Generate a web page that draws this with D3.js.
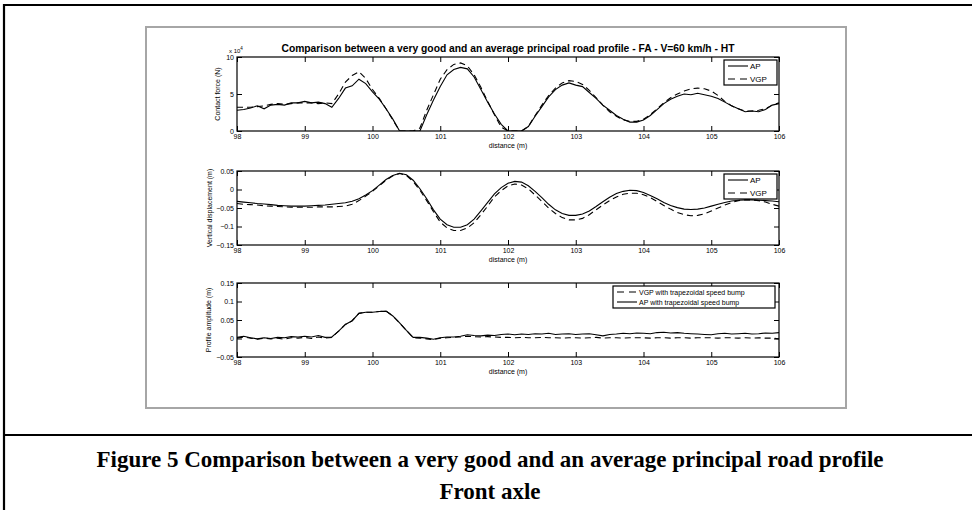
<!DOCTYPE html>
<html>
<head>
<meta charset="utf-8">
<script src="https://cdn.jsdelivr.net/npm/d3@7"></script>
<style>
  body { margin: 0; background: #fff; }
  svg { display: block; }
</style>
</head>
<body>
<div id="chart"></div>
<script>
// distance grid (m)
const distance = [
  98.0, 98.1, 98.2, 98.3, 98.4, 98.5, 98.6, 98.7, 98.8, 98.9,
  99.0, 99.1, 99.2, 99.3, 99.4, 99.5, 99.6, 99.7, 99.8, 99.9,
  100.0, 100.1, 100.2, 100.3, 100.4, 100.5, 100.6, 100.7, 100.8, 100.9,
  101.0, 101.1, 101.2, 101.3, 101.4, 101.5, 101.6, 101.7, 101.8, 101.9,
  102.0, 102.1, 102.2, 102.3, 102.4, 102.5, 102.6, 102.7, 102.8, 102.9,
  103.0, 103.1, 103.2, 103.3, 103.4, 103.5, 103.6, 103.7, 103.8, 103.9,
  104.0, 104.1, 104.2, 104.3, 104.4, 104.5, 104.6, 104.7, 104.8, 104.9,
  105.0, 105.1, 105.2, 105.3, 105.4, 105.5, 105.6, 105.7, 105.8, 105.9,
  106.0
];

// contact force (x 10^4 N)
const forceAP = [
  2.8, 2.9, 3.1, 3.4, 3.0, 3.5, 3.6, 3.5, 3.8, 3.8,
  4.0, 3.8, 3.9, 3.7, 3.2, 4.4, 5.8, 6.1, 7.0, 6.4,
  5.3, 4.3, 3.0, 1.6, 0, 0, 0, 0, 2.2, 4.2,
  6.0, 7.6, 8.3, 8.6, 8.4, 7.3, 5.6, 3.9, 2.3, 0.9,
  0, 0, 0, 0.6, 2.0, 3.3, 4.6, 5.6, 6.2, 6.5,
  6.2, 6.0, 5.2, 4.4, 3.5, 2.8, 2.1, 1.6, 1.2, 1.2,
  1.5, 2.1, 2.9, 3.7, 4.3, 4.7, 5.0, 4.9, 5.1, 4.9,
  4.7, 4.4, 3.9, 3.4, 3.0, 2.6, 2.7, 2.6, 2.9, 3.5,
  3.7
];
const forceVGP = [
  3.2, 3.2, 3.2, 3.3, 3.4, 3.6, 3.7, 3.6, 3.7, 3.8,
  3.8, 3.8, 3.7, 3.8, 3.7, 5.0, 6.6, 7.5, 8.0, 7.1,
  5.6, 4.4, 3.0, 1.5, 0, 0, 0, 0.4, 2.8, 4.9,
  7.0, 8.3, 9.0, 9.2, 8.8, 7.6, 5.9, 4.0, 2.2, 0.5,
  0, 0, 0, 0.6, 2.1, 3.5, 4.8, 5.8, 6.5, 6.8,
  6.7, 6.3, 5.5, 4.5, 3.5, 2.6, 2.0, 1.5, 1.3, 1.3,
  1.6, 2.2, 3.0, 3.8, 4.5, 5.0, 5.4, 5.7, 5.8, 5.7,
  5.4, 4.8, 4.0, 3.4, 3.0, 2.7, 2.7, 2.8, 3.0, 3.5,
  3.8
];

// vertical displacement (m)
const dispAP = [
  -0.032, -0.034, -0.036, -0.038, -0.039, -0.041, -0.043, -0.044, -0.045, -0.045,
  -0.045, -0.044, -0.043, -0.042, -0.040, -0.038, -0.036, -0.032, -0.025, -0.015,
  -0.003, 0.012, 0.027, 0.038, 0.044, 0.040, 0.025, 0.002, -0.025, -0.055,
  -0.080, -0.095, -0.102, -0.102, -0.095, -0.080, -0.058, -0.035, -0.012, 0.005,
  0.017, 0.022, 0.020, 0.010, -0.005, -0.022, -0.040, -0.055, -0.065, -0.070,
  -0.070, -0.066, -0.058, -0.046, -0.033, -0.021, -0.011, -0.005, -0.002, -0.003,
  -0.008, -0.016, -0.025, -0.035, -0.043, -0.049, -0.053, -0.054, -0.053, -0.050,
  -0.045, -0.040, -0.035, -0.031, -0.029, -0.028, -0.028, -0.029, -0.030, -0.031,
  -0.033
];
const dispVGP = [
  -0.038, -0.040, -0.041, -0.042, -0.044, -0.045, -0.046, -0.047, -0.048, -0.048,
  -0.048, -0.048, -0.047, -0.047, -0.047, -0.046, -0.045, -0.040, -0.030, -0.018,
  -0.005, 0.010, 0.025, 0.037, 0.043, 0.038, 0.022, -0.002, -0.030, -0.060,
  -0.088, -0.104, -0.111, -0.111, -0.104, -0.090, -0.068, -0.045, -0.020, -0.003,
  0.010, 0.015, 0.012, 0.002, -0.015, -0.032, -0.050, -0.065, -0.076, -0.082,
  -0.082, -0.078, -0.068, -0.055, -0.042, -0.030, -0.020, -0.013, -0.010, -0.010,
  -0.014, -0.022, -0.032, -0.043, -0.053, -0.062, -0.068, -0.071, -0.070, -0.066,
  -0.058, -0.050, -0.042, -0.035, -0.030, -0.028, -0.028, -0.030, -0.034, -0.040,
  -0.045
];

// profile amplitude (m)
const profAP = [
  0.003, 0.006, 0.002, -0.001, 0.002, 0.000, 0.003, 0.002, 0.005, 0.004,
  0.006, 0.004, 0.008, 0.003, 0.004, 0.020, 0.038, 0.048, 0.068, 0.071,
  0.071, 0.073, 0.074, 0.061, 0.042, 0.022, 0.003, 0.003, 0.001, -0.002,
  0.002, 0.004, 0.004, 0.006, 0.010, 0.008, 0.007, 0.009, 0.008, 0.011,
  0.012, 0.010, 0.012, 0.011, 0.013, 0.012, 0.014, 0.011, 0.012, 0.013,
  0.011, 0.012, 0.013, 0.010, 0.007, 0.011, 0.012, 0.014, 0.013, 0.015,
  0.014, 0.013, 0.016, 0.017, 0.015, 0.016, 0.014, 0.013, 0.012, 0.011,
  0.010, 0.013, 0.014, 0.012, 0.013, 0.014, 0.012, 0.013, 0.015, 0.014,
  0.016
];
const profVGP = [
  0.001, 0.004, 0.001, -0.002, 0.001, -0.001, 0.001, -0.002, 0.002, 0.001,
  0.003, 0.000, 0.004, 0.001, 0.003, 0.020, 0.038, 0.048, 0.068, 0.071,
  0.071, 0.073, 0.074, 0.061, 0.042, 0.022, 0.002, 0.001, -0.001, -0.003,
  0.001, 0.002, 0.003, 0.004, 0.006, 0.005, 0.004, 0.005, 0.004, 0.003,
  0.003, 0.002, 0.003, 0.002, 0.002, 0.003, 0.002, 0.002, 0.001, 0.002,
  0.002, 0.001, 0.002, 0.003, 0.001, 0.002, 0.002, 0.001, 0.002, 0.002,
  0.002, 0.001, 0.002, 0.002, 0.001, 0.002, 0.002, 0.001, 0.002, 0.002,
  0.002, 0.001, 0.002, 0.002, 0.001, 0.002, 0.001, 0.002, 0.001, 0.001,
  -0.001
];

// tick labels
const xTicks = [98, 99, 100, 101, 102, 103, 104, 105, 106];
const forceTicks = [0, 5, 10];
const dispTicks = [-0.15, -0.1, -0.05, 0, 0.05];
const profTicks = [-0.05, 0, 0.05, 0.1, 0.15];

const W = 972, H = 510;
const svg = d3.select("#chart")
  .append("svg")
  .attr("width", W)
  .attr("height", H)
  .style("font-family", "'Liberation Sans', Arial, sans-serif");

svg.append("rect").attr("width", W).attr("height", H).attr("fill", "#fff");

// outer document frame
svg.append("path")
  .attr("d", "M4,510 V5 H972 M4,435 H972")
  .attr("fill", "none")
  .attr("stroke", "#000")
  .attr("stroke-width", 2.2);

// figure window (grey border)
svg.append("rect")
  .attr("x", 146).attr("y", 27)
  .attr("width", 700).attr("height", 381)
  .attr("fill", "#fff")
  .attr("stroke", "#a6a6a6")
  .attr("stroke-width", 2);

const axLeft = 237, axWidth = 542, axHeight = 74;
const x = d3.scaleLinear().domain([98, 106]).range([axLeft, axLeft + axWidth]);

function drawPanel(cfg) {
  const top = cfg.top, bottom = top + axHeight;
  const y = d3.scaleLinear().domain(cfg.domain).range([bottom, top]);
  const g = svg.append("g");

  // inward ticks on all four sides
  g.append("g").attr("transform", `translate(0,${bottom})`)
    .call(d3.axisBottom(x).tickValues(xTicks).tickSize(-5).tickPadding(3).tickFormat(d3.format("d")));
  g.append("g").attr("transform", `translate(0,${top})`)
    .call(d3.axisTop(x).tickValues(xTicks).tickSize(-5).tickFormat(""));
  g.append("g").attr("transform", `translate(${axLeft},0)`)
    .call(d3.axisLeft(y).tickValues(cfg.ticks).tickSize(-5).tickPadding(3).tickFormat(cfg.format));
  g.append("g").attr("transform", `translate(${axLeft + axWidth},0)`)
    .call(d3.axisRight(y).tickValues(cfg.ticks).tickSize(-5).tickFormat(""));
  g.selectAll(".domain").remove();
  g.selectAll(".tick line").attr("stroke", "#000").attr("stroke-width", 1);
  g.selectAll(".tick text").attr("fill", "#000").style("font-size", "7px")
    .style("font-family", "'Liberation Sans', Arial, sans-serif");

  // data lines
  const clipId = "clip" + top;
  g.append("clipPath").attr("id", clipId).append("rect")
    .attr("x", axLeft).attr("y", top).attr("width", axWidth).attr("height", axHeight);
  const line = d3.line().x((d, i) => x(distance[i])).y(d => y(d));
  cfg.series.forEach(s => {
    g.append("path")
      .datum(s.values)
      .attr("clip-path", `url(#${clipId})`)
      .attr("fill", "none")
      .attr("stroke", "#000")
      .attr("stroke-width", 1.1)
      .attr("stroke-dasharray", s.dash ? "6,4" : null)
      .attr("d", line);
  });

  // axes box
  g.append("rect")
    .attr("x", axLeft).attr("y", top)
    .attr("width", axWidth).attr("height", axHeight)
    .attr("fill", "none").attr("stroke", "#000").attr("stroke-width", 1.2);

  // labels
  g.append("text")
    .attr("x", axLeft + axWidth / 2).attr("y", bottom + 17)
    .attr("text-anchor", "middle").style("font-size", "7px")
    .text("distance (m)");
  g.append("text")
    .attr("transform", `translate(${cfg.ylabelX},${top + axHeight / 2}) rotate(-90)`)
    .attr("text-anchor", "middle").style("font-size", "7px")
    .text(cfg.ylabel);

  // legend
  const L = cfg.legend;
  const lg = g.append("g");
  lg.append("rect")
    .attr("x", L.x).attr("y", top + 3).attr("width", L.w).attr("height", L.h)
    .attr("fill", "#fff").attr("stroke", "#000").attr("stroke-width", 1.2);
  L.items.forEach((it, i) => {
    const yy = top + 3 + L.first + i * L.step;
    lg.append("line")
      .attr("x1", L.x + 4).attr("x2", L.x + 24)
      .attr("y1", yy).attr("y2", yy)
      .attr("stroke", "#000").attr("stroke-width", 1.1)
      .attr("stroke-dasharray", it.dash ? "7,5" : null);
    lg.append("text")
      .attr("x", L.x + 26).attr("y", yy + L.font * 0.36)
      .style("font-size", L.font + "px")
      .text(it.label);
  });
  return g;
}

// title
svg.append("text")
  .attr("x", axLeft + axWidth / 2).attr("y", 52)
  .attr("text-anchor", "middle")
  .style("font-size", "10.3px").style("font-weight", "bold")
  .text("Comparison between a very good and an average principal road profile - FA - V=60 km/h - HT");

drawPanel({
  top: 57, domain: [0, 10], ticks: forceTicks, format: d3.format("d"),
  ylabel: "Contact force (N)", ylabelX: 220,
  series: [{ values: forceAP, dash: false }, { values: forceVGP, dash: true }],
  legend: { x: 724, w: 53, h: 25, first: 6, step: 13, font: 8,
    items: [{ label: "AP", dash: false }, { label: "VGP", dash: true }] }
});
// exponent label
const ex = svg.append("text").attr("x", 229).attr("y", 53).style("font-size", "6px");
ex.append("tspan").text("x 10");
ex.append("tspan").attr("dy", -3).style("font-size", "4.5px").text("4");

drawPanel({
  top: 171, domain: [-0.15, 0.05], ticks: dispTicks, format: d => d3.format("~g")(d),
  ylabel: "Vertical displacement (m)", ylabelX: 212,
  series: [{ values: dispAP, dash: false }, { values: dispVGP, dash: true }],
  legend: { x: 724, w: 53, h: 25, first: 6, step: 13, font: 8,
    items: [{ label: "AP", dash: false }, { label: "VGP", dash: true }] }
});

drawPanel({
  top: 283, domain: [-0.05, 0.15], ticks: profTicks, format: d => d3.format("~g")(d),
  ylabel: "Profile amplitude (m)", ylabelX: 211,
  series: [{ values: profAP, dash: false }, { values: profVGP, dash: true }],
  legend: { x: 613, w: 162, h: 22, first: 6, step: 10, font: 7,
    items: [{ label: "VGP with trapezoidal speed bump", dash: true },
            { label: "AP with trapezoidal speed bump", dash: false }] }
});

// caption
svg.append("text")
  .attr("x", 490).attr("y", 467)
  .attr("text-anchor", "middle")
  .style("font-family", "'Liberation Serif', 'Times New Roman', serif")
  .style("font-weight", "bold").style("font-size", "23px")
  .text("Figure 5 Comparison between a very good and an average principal road profile");
svg.append("text")
  .attr("x", 490).attr("y", 499)
  .attr("text-anchor", "middle")
  .style("font-family", "'Liberation Serif', 'Times New Roman', serif")
  .style("font-weight", "bold").style("font-size", "23px")
  .text("Front axle");
</script>
</body>
</html>
